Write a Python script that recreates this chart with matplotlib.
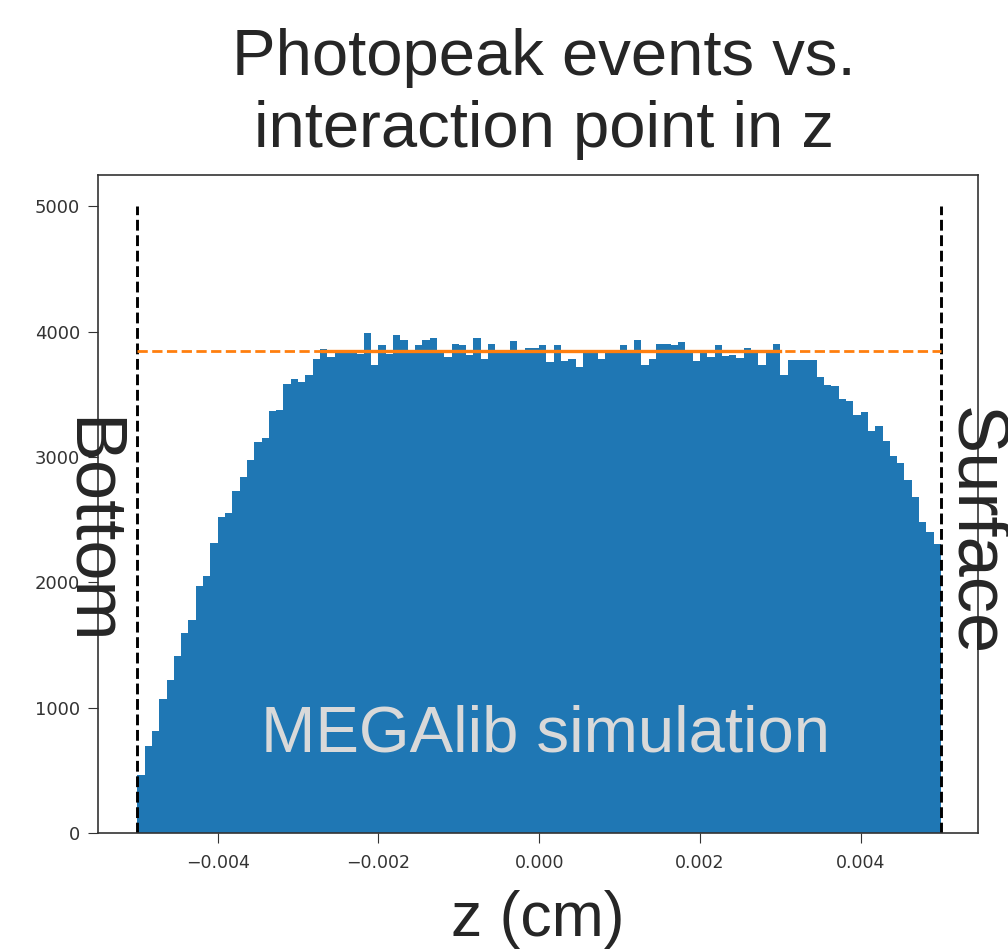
import numpy as np
import matplotlib
matplotlib.use("Agg")
import matplotlib.pyplot as plt

# photopeak counts per z bin (110 bins between -0.005 and 0.005 cm)
counts = [
    464, 696, 811, 1069, 1224, 1411, 1597, 1696, 1971, 2051,
    2312, 2523, 2557, 2725, 2837, 2979, 3123, 3152, 3371, 3379,
    3579, 3624, 3597, 3651, 3779, 3864, 3797, 3845, 3850, 3840,
    3824, 3992, 3736, 3890, 3824, 3976, 3931, 3845, 3890, 3931,
    3949, 3845, 3797, 3904, 3890, 3811, 3949, 3784, 3904, 3829,
    3845, 3922, 3845, 3869, 3869, 3890, 3757, 3890, 3763, 3784,
    3717, 3845, 3835, 3784, 3845, 3850, 3890, 3845, 3931, 3736,
    3784, 3904, 3904, 3890, 3915, 3845, 3763, 3850, 3797, 3890,
    3805, 3810, 3789, 3872, 3850, 3733, 3850, 3904, 3653, 3776,
    3776, 3776, 3776, 3635, 3578, 3568, 3464, 3448, 3336, 3360,
    3208, 3248, 3128, 3008, 2952, 2816, 2680, 2480, 2400, 2304,
]
z_min, z_max = -0.005, 0.005
fit_level = 3848
fit_range = [-0.0027, 0.003]
edge_height = 5000

edges = np.linspace(z_min, z_max, len(counts) + 1)

fig = plt.figure(figsize=(10.08, 9.49), dpi=100)
ax = fig.add_axes([0.0972, 0.1222, 0.873, 0.6934])

ax.stairs(counts, edges, fill=True, color="#1f77b4")
ax.vlines([z_min, z_max], 0, edge_height, colors="k", linestyles="--", lw=2.1)
ax.hlines(fit_level, z_min, z_max, colors="#ff7f0e", linestyles="--", lw=2.0)
ax.plot(fit_range, [fit_level, fit_level], color="#ff7f0e", lw=2.4)

ax.set_xlim(-0.00549, 0.00546)
ax.set_ylim(0, 5250)
ax.set_xticks([-0.004, -0.002, 0.0, 0.002, 0.004])
ax.set_yticks([0, 1000, 2000, 3000, 4000, 5000])
ax.tick_params(axis="x", labelsize=12.5, length=7, pad=8, colors="#333333")
ax.tick_params(axis="y", labelsize=13, length=7, pad=6, colors="#333333")
for s in ax.spines.values():
    s.set_color("#333333")
    s.set_linewidth(1.2)

txt = dict(family=["Liberation Sans", "DejaVu Sans"], color="#262626")
ax.set_xlabel("z (cm)", fontsize=45, labelpad=13, **txt)
fig.text(0.54, 0.97, "Photopeak events vs.\ninteraction point in z",
         ha="center", va="top", fontsize=47, linespacing=1.25, **txt)
fig.text(0.088, 0.44, "Bottom", rotation=270, ha="center", va="center",
         fontsize=52, **txt)
fig.text(0.966, 0.44, "Surface", rotation=270, ha="center", va="center",
         fontsize=52, **txt)
ax.text(0.508, 0.149, "MEGAlib simulation", transform=ax.transAxes,
        ha="center", va="center", fontsize=47,
        family=["Liberation Sans", "DejaVu Sans"], color="#d9d9d9")

fig.savefig("out.png", dpi=100)
